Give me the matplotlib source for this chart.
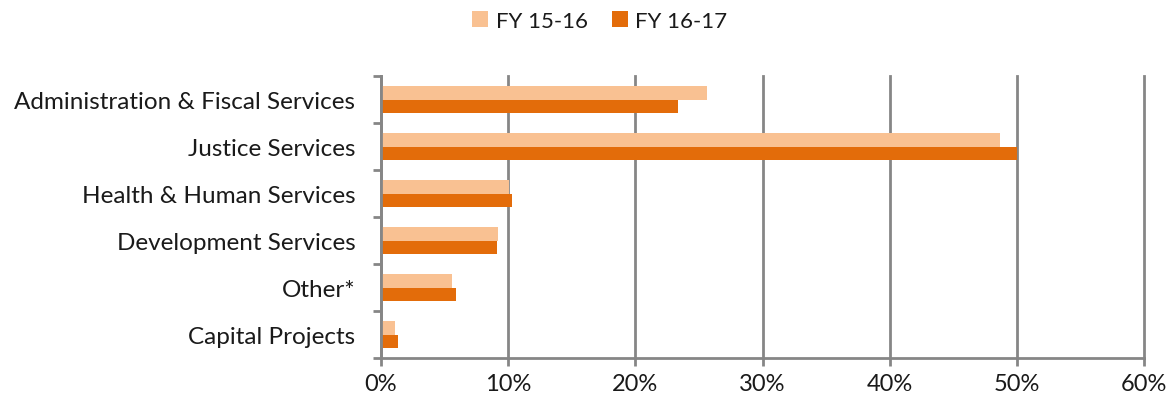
import matplotlib
matplotlib.use("Agg")
import matplotlib.pyplot as plt
import numpy as np
from matplotlib.ticker import FixedLocator, PercentFormatter

categories = ["Administration & Fiscal Services", "Justice Services",
              "Health & Human Services", "Development Services",
              "Other*", "Capital Projects"]
fy1516 = [25.6, 48.65, 10.1, 9.2, 5.6, 1.1]
fy1617 = [23.35, 50.0, 10.3, 9.1, 5.9, 1.35]
series_names = ["FY 15-16", "FY 16-17"]
xticks = [0, 10, 20, 30, 40, 50, 60]

plt.rcParams['font.family'] = ['Lato', 'DejaVu Sans']

fig = plt.figure(figsize=(11.68, 4.02), dpi=100)
ax = fig.add_axes([381/1168, 1-359/402, (1144-381)/1168, (359-77)/402])

gray = "#868686"
light = "#F9C192"
dark = "#E36C0A"
h = 0.285
y = np.arange(len(categories))
ax.barh(y - h/2, fy1516, height=h, color=light, label=series_names[0], zorder=3)
ax.barh(y + h/2, fy1617, height=h, color=dark, label=series_names[1], zorder=3)

ax.set_ylim(len(categories) - 0.5, -0.5)
ax.set_xlim(0, 60)
ax.set_yticks(y)
ax.set_yticklabels(categories, fontsize=17.5, color="#1a1a1a")
ax.tick_params(axis='y', which='major', length=0, pad=18.5)
ax.yaxis.set_minor_locator(FixedLocator(np.arange(-0.5, len(categories), 1.0)))
ax.tick_params(axis='y', which='minor', length=6, width=2, color=gray, direction='out')

ax.set_xticks(xticks)
ax.xaxis.set_major_formatter(PercentFormatter(decimals=0))
ax.tick_params(axis='x', length=6, width=2, color=gray, labelsize=17, pad=5,
               labelcolor="#1a1a1a")

ax.grid(axis='x', color=gray, linewidth=2, zorder=0)
for gl in ax.get_xgridlines():
    gl.set_clip_on(False)
for s in ['top', 'right']:
    ax.spines[s].set_visible(False)
for s in ['left', 'bottom']:
    ax.spines[s].set_color(gray)
    ax.spines[s].set_linewidth(2)
    ax.spines[s].set_zorder(4)

leg = fig.legend(loc='center', bbox_to_anchor=(600/1168, 1-22/402), ncol=2, frameon=False,
                 fontsize=16, handlelength=0.7, handleheight=0.7, handletextpad=0.35,
                 columnspacing=1.1)
for t in leg.get_texts():
    t.set_color("#1a1a1a")

fig.savefig("out.png", dpi=100)
